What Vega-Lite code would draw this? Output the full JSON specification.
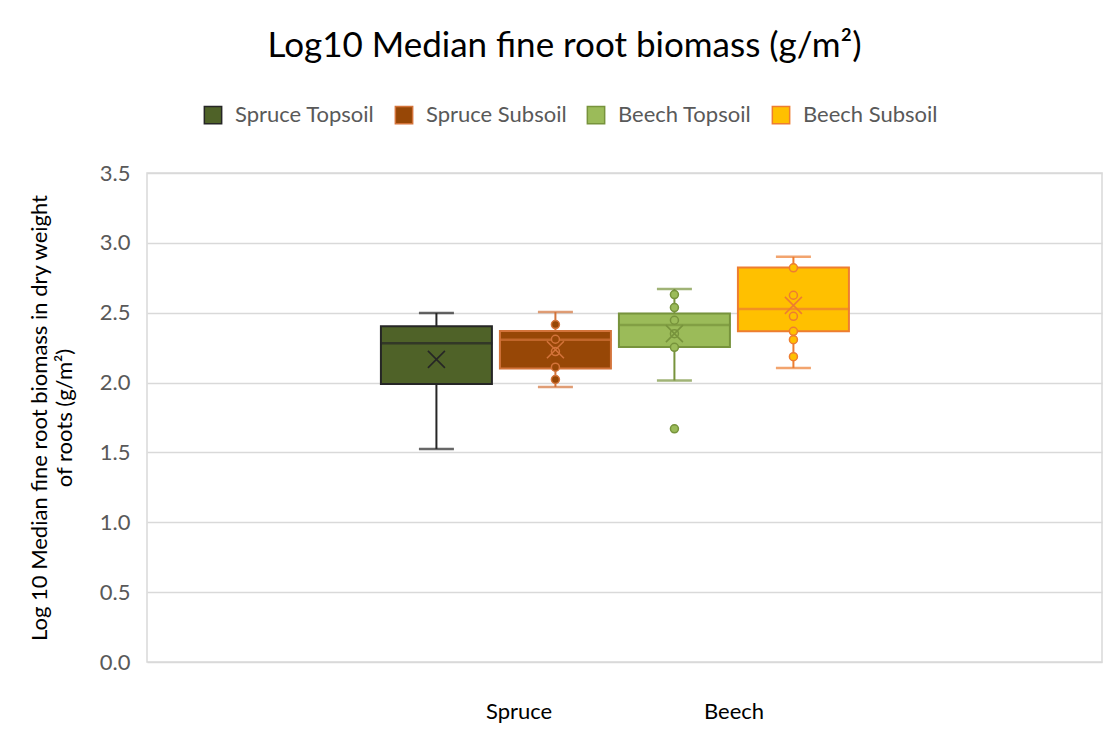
{
  "$schema": "https://vega.github.io/schema/vega-lite/v6.json",
  "width": 955,
  "height": 489,
  "autosize": {"type": "none"},
  "padding": {"left": 147, "top": 173, "right": 5, "bottom": 71},
  "background": "white",
  "title": {
    "text": "Log10 Median fine root biomass (g/m²)",
    "anchor": "middle",
    "dx": -60,
    "offset": 12,
    "baseline": "alphabetic",
    "font": "Lato",
    "fontSize": 35,
    "fontWeight": "normal",
    "color": "#000000"
  },
  "config": {
    "font": "Lato",
    "view": {"stroke": "#D9D9D9", "strokeWidth": 1.5},
    "legend": {
      "orient": "none",
      "legendX": 55,
      "legendY": -69,
      "direction": "horizontal",
      "title": null,
      "symbolType": "square",
      "symbolSize": 300,
      "symbolStrokeWidth": 1.5,
      "symbolOpacity": 1,
      "labelFont": "Lato",
      "labelFontSize": 22,
      "labelColor": "#595959",
      "labelOffset": 11,
      "columnPadding": 17
    }
  },
  "datasets": {
    "boxes": [
      {"series": "Spruce Topsoil", "site": "Spruce", "lower": 1.525, "q1": 1.989, "median": 2.281, "q3": 2.403, "upper": 2.498, "mean": 2.166},
      {"series": "Spruce Subsoil", "site": "Spruce", "lower": 1.968, "q1": 2.101, "median": 2.307, "q3": 2.369, "upper": 2.505, "mean": 2.235},
      {"series": "Beech Topsoil", "site": "Beech", "lower": 2.015, "q1": 2.254, "median": 2.412, "q3": 2.494, "upper": 2.670, "mean": 2.350},
      {"series": "Beech Subsoil", "site": "Beech", "lower": 2.104, "q1": 2.367, "median": 2.527, "q3": 2.824, "upper": 2.900, "mean": 2.553}
    ],
    "points": [
      {"series": "Spruce Subsoil", "value": 2.415},
      {"series": "Spruce Subsoil", "value": 2.310},
      {"series": "Spruce Subsoil", "value": 2.222},
      {"series": "Spruce Subsoil", "value": 2.110},
      {"series": "Spruce Subsoil", "value": 2.022},
      {"series": "Beech Topsoil", "value": 2.630},
      {"series": "Beech Topsoil", "value": 2.537},
      {"series": "Beech Topsoil", "value": 2.446},
      {"series": "Beech Topsoil", "value": 2.350},
      {"series": "Beech Topsoil", "value": 2.252},
      {"series": "Beech Topsoil", "value": 1.669},
      {"series": "Beech Subsoil", "value": 2.821},
      {"series": "Beech Subsoil", "value": 2.625},
      {"series": "Beech Subsoil", "value": 2.474},
      {"series": "Beech Subsoil", "value": 2.367},
      {"series": "Beech Subsoil", "value": 2.307},
      {"series": "Beech Subsoil", "value": 2.185}
    ]
  },
  "layer": [
    {
      "encoding": {
        "x": {
          "field": "series",
          "type": "nominal",
          "scale": {
            "type": "band",
            "domain": ["_pad1", "Spruce Topsoil", "Spruce Subsoil", "Beech Topsoil", "Beech Subsoil", "_pad2", "_pad3"],
            "paddingInner": 0.0672,
            "paddingOuter": 0.5462,
            "align": 0.884
          },
          "axis": null
        },
        "stroke": {
          "field": "series",
          "type": "nominal",
          "scale": {
            "domain": ["Spruce Topsoil", "Spruce Subsoil", "Beech Topsoil", "Beech Subsoil"],
            "range": ["#262626", "#D3733A", "#77933C", "#ED7D31"]
          },
          "legend": {"symbolType": "square"}
        }
      },
      "layer": [
        {
          "data": {"name": "boxes"},
          "mark": {"type": "rule", "strokeWidth": 2},
          "encoding": {
            "y": {
              "field": "lower",
              "type": "quantitative",
              "scale": {"domain": [0, 3.5], "nice": false, "zero": false},
              "axis": {
                "title": ["Log 10 Median fine root biomass in dry weight", "of roots (g/m²)"],
                "values": [0, 0.5, 1, 1.5, 2, 2.5, 3, 3.5],
                "format": ".1f",
                "grid": true,
                "gridColor": "#D9D9D9",
                "gridWidth": 1.5,
                "domain": false,
                "ticks": false,
                "labelPadding": 17,
                "labelFont": "Lato",
                "labelFontSize": 22,
                "labelColor": "#595959",
                "titleFont": "Lato",
                "titleFontSize": 22,
                "titleFontWeight": "normal",
                "titleColor": "#000000",
                "titleLineHeight": 25,
                "titlePadding": 23
              }
            },
            "y2": {"field": "upper"}
          }
        },
        {
          "data": {"name": "boxes"},
          "mark": {"type": "tick", "orient": "horizontal", "size": 33, "thickness": 0.5, "filled": false, "strokeWidth": 2},
          "encoding": {"y": {"field": "lower", "type": "quantitative"}}
        },
        {
          "data": {"name": "boxes"},
          "mark": {"type": "tick", "orient": "horizontal", "size": 33, "thickness": 0.5, "filled": false, "strokeWidth": 2},
          "encoding": {"y": {"field": "upper", "type": "quantitative"}}
        },
        {
          "data": {"name": "boxes"},
          "mark": {"type": "bar", "strokeWidth": 2},
          "encoding": {
            "y": {"field": "q1", "type": "quantitative"},
            "y2": {"field": "q3"},
            "fill": {
              "field": "series",
              "type": "nominal",
              "scale": {
                "domain": ["Spruce Topsoil", "Spruce Subsoil", "Beech Topsoil", "Beech Subsoil"],
                "range": ["#4F6228", "#974706", "#9BBB59", "#FFC000"]
              },
              "legend": {"symbolType": "square"}
            }
          }
        },
        {
          "data": {"name": "boxes"},
          "mark": {"type": "tick", "orient": "horizontal", "size": 110, "thickness": 0.5, "filled": false, "strokeWidth": 2},
          "encoding": {"y": {"field": "median", "type": "quantitative"}}
        },
        {
          "data": {"name": "points"},
          "mark": {"type": "point", "shape": "circle", "filled": true, "size": 64, "strokeWidth": 1.5, "opacity": 1},
          "encoding": {
            "y": {"field": "value", "type": "quantitative"},
            "fill": {"field": "series", "type": "nominal"}
          }
        },
        {
          "data": {"name": "boxes"},
          "mark": {"type": "point", "shape": "M-1,-1L1,1M-1,1L1,-1", "filled": false, "size": 289, "strokeWidth": 1.6, "opacity": 1},
          "encoding": {"y": {"field": "mean", "type": "quantitative"}}
        }
      ]
    },
    {
      "data": {"name": "boxes"},
      "mark": {"type": "text", "text": ""},
      "encoding": {
        "x": {
          "field": "site",
          "type": "nominal",
          "scale": {
            "type": "band",
            "domain": ["_pad", "Spruce", "Beech"],
            "paddingInner": 0,
            "paddingOuter": 0.721,
            "align": 0.16
          },
          "axis": {
            "orient": "bottom",
            "title": null,
            "values": ["Spruce", "Beech"],
            "ticks": false,
            "domain": false,
            "grid": false,
            "labelAngle": 0,
            "labelFont": "Lato",
            "labelFontSize": 22,
            "labelColor": "#000000",
            "labelPadding": 39
          }
        }
      }
    }
  ],
  "resolve": {"scale": {"x": "independent"}, "axis": {"x": "independent"}}
}
